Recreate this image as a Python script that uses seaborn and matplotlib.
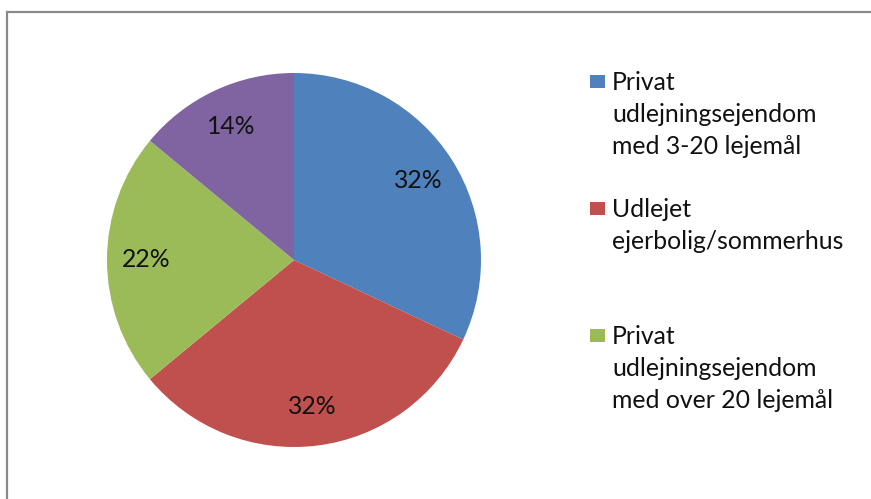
import matplotlib
matplotlib.use("Agg")
import matplotlib.pyplot as plt
from matplotlib.patches import Rectangle
import seaborn as sns

# data
shares = [32, 32, 22, 14]
pct_labels = ["32%", "32%", "22%", "14%"]
legend_labels = [
    ["Privat", "udlejningsejendom", "med 3-20 lejemål"],
    ["Udlejet", "ejerbolig/sommerhus"],
    ["Privat", "udlejningsejendom", "med over 20 lejemål"],
]
slice_colors = ["#4F81BD", "#C0504D", "#9BBB59", "#8064A2"]

sns.set_theme(style="white")
plt.rcParams['font.family'] = ['Lato', 'DejaVu Sans']

W, H = 871, 499
fig = plt.figure(figsize=(W / 100, H / 100), dpi=100)
fig.patch.set_facecolor("white")

# pie axes placed in pixel terms
left, right, top, bottom = 107, 481, 73, 447
ax = fig.add_axes([left / W, (H - bottom) / H, (right - left) / W, (bottom - top) / H])
palette = sns.color_palette(slice_colors)
wedges, texts, autotexts = ax.pie(
    shares, colors=palette, startangle=90, counterclock=False,
    autopct=lambda p: "", pctdistance=0.79, radius=1,
    wedgeprops=dict(linewidth=0),
)
for t, lab in zip(autotexts, pct_labels):
    t.set_text(lab)
    t.set_fontsize(17.8)
    t.set_color("#111111")
ax.set_xlim(-1, 1)
ax.set_ylim(-1, 1)
ax.set_aspect("equal")
ax.axis("off")

# chart frame (only top and left edges are inside the crop)
fig.add_artist(Rectangle((7 / W, -0.1), 1.2, (H - 12) / H + 0.1,
                         transform=fig.transFigure, fill=False,
                         edgecolor="#8a8a8a", linewidth=1.6))

# legend, Excel style: key square beside first line of each entry
first_baselines = [90, 217, 344]
line_pitch = 32
for lines, col, yb in zip(legend_labels, slice_colors, first_baselines):
    fig.add_artist(Rectangle((590 / W, (H - yb + 2) / H), 15 / W, 13 / H,
                             transform=fig.transFigure, facecolor=col,
                             edgecolor="none"))
    for i, line in enumerate(lines):
        fig.text(612 / W, (H - yb - i * line_pitch) / H, line,
                 fontsize=17.8, color="#111111", va="baseline", ha="left")

fig.savefig("out.png", dpi=100, facecolor="white")
